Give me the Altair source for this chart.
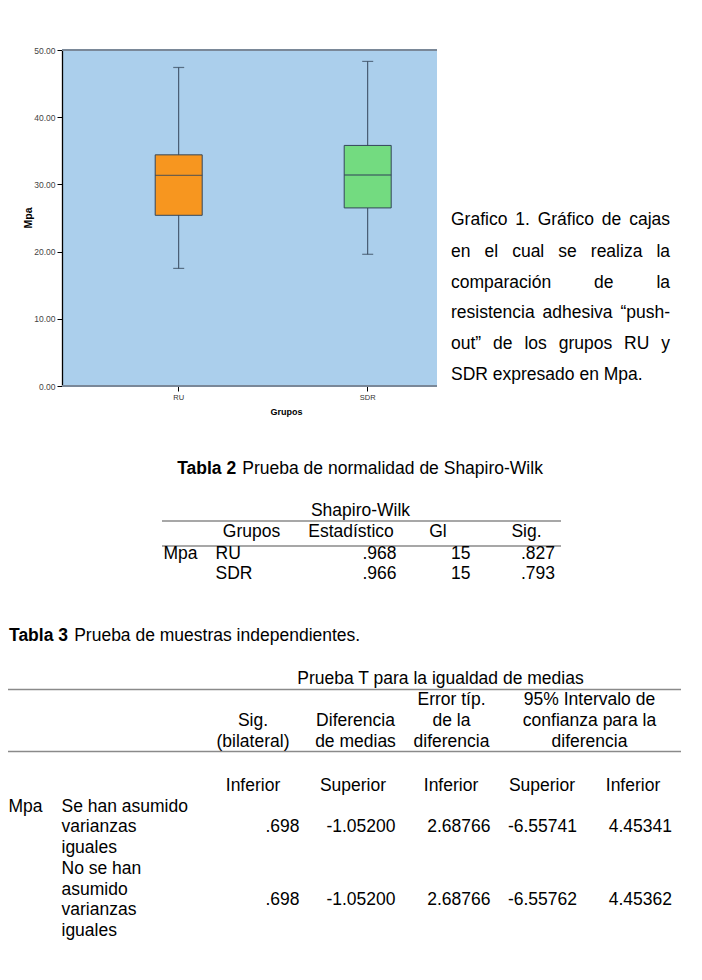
import altair as alt
import pandas as pd

# ---------------- data ----------------
groups = ["RU", "SDR"]
whisker_low = [17.5, 19.6]
q1 = [25.4, 26.5]
median = [31.35, 31.4]
q3 = [34.4, 35.8]
whisker_high = [47.4, 48.3]
box_colors = ["#F7961F", "#73DB80"]
y_ticks = [0, 10, 20, 30, 40, 50]
y_title = "Mpa"
x_title = "Grupos"

caption_lines = [
    "Grafico 1. Gráfico de cajas",
    "en el cual se realiza la",
    "comparación de la",
    "resistencia adhesiva “push-",
    "out” de los grupos RU y",
    "SDR expresado en Mpa.",
]

t2_bold = "Tabla 2"
t2_rest = "Prueba de normalidad de Shapiro-Wilk"
sw_title = "Shapiro-Wilk"
sw_header = ["Grupos", "Estadístico", "Gl", "Sig."]
sw_var = "Mpa"
sw_groups = ["RU", "SDR"]
sw_stat = [".968", ".966"]
sw_gl = ["15", "15"]
sw_sig = [".827", ".793"]

t3_bold = "Tabla 3"
t3_rest = "Prueba de muestras independientes."
t_title = "Prueba T para la igualdad de medias"
t_headers = [
    ["Sig.", "(bilateral)"],
    ["Diferencia", "de medias"],
    ["Error típ.", "de la", "diferencia"],
    ["95% Intervalo de", "confianza para la", "diferencia"],
]
t_sub = ["Inferior", "Superior", "Inferior", "Superior", "Inferior"]
t_var = "Mpa"
t_rows = [["Se han asumido", "varianzas", "iguales"],
          ["No se han", "asumido", "varianzas", "iguales"]]
t_sig = [".698", ".698"]
t_diff = ["-1.05200", "-1.05200"]
t_err = ["2.68766", "2.68766"]
t_lo = ["-6.55741", "-6.55762"]
t_hi = ["4.45341", "4.45362"]

# ---------------- layout ----------------
F = "Liberation Sans"
FS = 17.5
PX0, PY0 = 62, 50          # plot origin on the page
PW, PH = 375, 336          # plot size
EDGE = "#34465A"

# Liberation Sans (Arial-compatible) advance widths, per 1000 em
_W = dict(zip("abcdefghijklmnopqrstuvwxyz",
              [556, 556, 500, 556, 556, 278, 556, 556, 222, 222, 500, 222, 833,
               556, 556, 556, 556, 333, 500, 278, 556, 500, 722, 500, 500, 500]))
_W.update(dict(zip("ABCDEFGHIJKLMNOPQRSTUVWXYZ",
                   [667, 667, 722, 722, 667, 611, 778, 722, 278, 500, 667, 556, 833,
                    722, 778, 667, 778, 722, 667, 611, 722, 667, 944, 667, 667, 611])))
_W.update({c: 556 for c in "0123456789"})
_W.update({" ": 278, ".": 278, ",": 278, "-": 333, "“": 333, "”": 333,
           "á": 556, "ó": 556, "í": 278, "(": 333, ")": 333, "%": 889})
_WB = {"T": 611, "a": 556, "b": 611, "l": 278, " ": 278}
_WB.update({c: 556 for c in "0123456789"})


def tw(s, size=FS, bold=False):
    tab = _WB if bold else _W
    return sum(tab.get(c, 556) for c in s) * size / 1000.0


def P(x, y, text):
    return {"x": x - PX0, "y": y - PY0, "text": text}


def text_layer(rows, align="left", size=FS, weight="normal", color="#000", angle=0):
    df = pd.DataFrame(rows)
    return alt.Chart(df).mark_text(
        align=align, baseline="middle", fontSize=size, fontWeight=weight,
        font=F, color=color, angle=angle
    ).encode(
        x=alt.X("x:Q", scale=None, axis=None),
        y=alt.Y("y:Q", scale=None, axis=None),
        text="text:N",
    )


# ---------------- box plot ----------------
box_df = pd.DataFrame({"grupo": groups, "lo": whisker_low, "q1": q1, "med": median,
                       "q3": q3, "hi": whisker_high, "color": box_colors})
xaxis = alt.Axis(title=None, domain=False, labelAngle=0, labelFont=F, labelFontSize=7.5,
                 labelColor="#333", tickColor="#000", tickSize=5, labelPadding=2, grid=False)
yaxis = alt.Axis(title=None, values=y_ticks, format=".2f", labelFont=F, labelFontSize=8.5,
                 labelColor="#444", tickColor="#000", tickSize=5, labelPadding=2,
                 domainColor="#000", domainWidth=1.3, grid=False)
xenc = alt.X("grupo:N", scale=alt.Scale(domain=groups, range=[22.2, 400.2],
                                        paddingInner=0, paddingOuter=0), axis=xaxis)
yscale = alt.Scale(domain=[0, 50], nice=False)

base = alt.Chart(box_df)
whisk = base.mark_rule(color=EDGE, strokeWidth=1).encode(
    x=xenc, y=alt.Y("lo:Q", scale=yscale, axis=yaxis), y2="hi:Q")
box = base.mark_bar(size=47, stroke=EDGE, strokeWidth=1).encode(
    x=xenc, y=alt.Y("q1:Q", scale=yscale, axis=yaxis), y2="q3:Q",
    color=alt.Color("color:N", scale=None))
med = base.mark_tick(size=47, thickness=1.3, color=EDGE, orient="horizontal").encode(
    x=xenc, y=alt.Y("med:Q", scale=yscale, axis=yaxis))
cap_lo = base.mark_tick(size=11, thickness=1.2, color=EDGE, orient="horizontal").encode(
    x=xenc, y=alt.Y("lo:Q", scale=yscale, axis=yaxis))
cap_hi = base.mark_tick(size=11, thickness=1.2, color=EDGE, orient="horizontal").encode(
    x=xenc, y=alt.Y("hi:Q", scale=yscale, axis=yaxis))

frame_df = pd.DataFrame({"x": [0, 0], "x2": [PW, PW], "y": [0, PH]})
frame = alt.Chart(frame_df).mark_rule(color="#7A8898", strokeWidth=2).encode(
    x=alt.X("x:Q", scale=None, axis=None), x2="x2:Q",
    y=alt.Y("y:Q", scale=None, axis=None))

plot_titles = [
    text_layer([P(29, 218, y_title)], align="center", size=10.5, weight="bold", angle=270),
    text_layer([P(286.5, 411.5, x_title)], align="center", size=9, weight="bold"),
]

# ---------------- caption (justified) ----------------
CAP_L, CAP_R = 451, 670
cap_y = [220, 251.7, 282.7, 313.3, 344.3, 375]
cap_rows = []
for i, (line, yy) in enumerate(zip(caption_lines, cap_y)):
    words = line.split(" ")
    if i == len(caption_lines) - 1 or len(words) == 1:
        cap_rows.append(P(CAP_L, yy, line))
        continue
    ww = [tw(w) for w in words]
    gap = (CAP_R - CAP_L - sum(ww)) / (len(words) - 1)
    xx = CAP_L
    for w, wd in zip(words, ww):
        cap_rows.append(P(xx, yy, w))
        xx += wd + gap
caption = text_layer(cap_rows)

# ---------------- titles ----------------
bold_rows, left_rows, center_rows, right_rows = [], [], [], []


def title_line(bold, rest, x0, yy):
    bold_rows.append(P(x0, yy, bold))
    left_rows.append(P(x0 + tw(bold, bold=True) + tw(" "), yy, rest))


t2_total = tw(t2_bold, bold=True) + tw(" ") + tw(t2_rest)
title_line(t2_bold, t2_rest, 360 - t2_total / 2, 468.5)
title_line(t3_bold, t3_rest, 9, 636)

# ---------------- table 2 ----------------
center_rows.append(P(360.5, 510.5, sw_title))
for h, cx in zip(sw_header, [251.5, 351, 438, 526.5]):
    center_rows.append(P(cx, 531.5, h))
left_rows.append(P(163.5, 554, sw_var))
for i, yy in enumerate([554, 574]):
    left_rows.append(P(215.5, yy, sw_groups[i]))
    right_rows.append(P(396.5, yy, sw_stat[i]))
    right_rows.append(P(470.5, yy, sw_gl[i]))
    right_rows.append(P(555, yy, sw_sig[i]))

# ---------------- table 3 ----------------
center_rows.append(P(440.5, 679, t_title))
for lines, cx in zip(t_headers, [253, 355.5, 451.5, 589.5]):
    n = len(lines)
    for k, ln in enumerate(lines):
        center_rows.append(P(cx, 742 - 21 * (n - 1 - k), ln))
for s, cx in zip(t_sub, [253, 353, 451, 542, 633]):
    center_rows.append(P(cx, 785.5, s))
left_rows.append(P(8.5, 806.5, t_var))
row_start = [806.5, 869]
row_val_y = [827.3, 899.5]
for r, lines in enumerate(t_rows):
    for k, ln in enumerate(lines):
        left_rows.append(P(61.5, row_start[r] + 20.7 * k, ln))
    for vals, rx in zip([t_sig, t_diff, t_err, t_lo, t_hi], [299.5, 395.5, 490.5, 577, 672]):
        right_rows.append(P(rx, row_val_y[r], vals[r]))

lines_df = pd.DataFrame({
    "x": [162 - PX0, 162 - PX0, 8 - PX0, 8 - PX0],
    "x2": [561 - PX0, 561 - PX0, 681 - PX0, 681 - PX0],
    "y": [521 - PY0, 546 - PY0, 689.5 - PY0, 751.5 - PY0],
})
table_lines = alt.Chart(lines_df).mark_rule(color="#8A8A8A", strokeWidth=1.6).encode(
    x=alt.X("x:Q", scale=None, axis=None), x2="x2:Q",
    y=alt.Y("y:Q", scale=None, axis=None))

texts = [
    caption,
    text_layer(bold_rows, weight="bold"),
    text_layer(left_rows),
    text_layer(center_rows, align="center"),
    text_layer(right_rows, align="right"),
]

chart = alt.layer(
    whisk, box, med, cap_lo, cap_hi, frame, table_lines, *plot_titles, *texts
).properties(
    width=PW, height=PH,
    autosize=alt.AutoSizeParams(type="none"),
    padding={"left": PX0 - 8, "top": PY0 - 8, "right": 686 - (PX0 - 8) - PW,
             "bottom": 964 - (PY0 - 8) - PH},
    background="#FFFFFF",
).configure_view(fill="#ABCFEC", strokeWidth=0)

chart.save("out.html", embed_options={"renderer": "svg", "actions": False})
